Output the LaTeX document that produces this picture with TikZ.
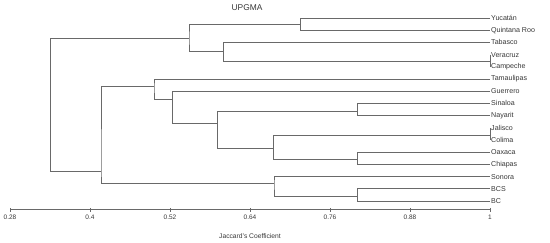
\documentclass[tikz,border=0pt]{standalone}
\usepackage{fontspec}
\setmainfont{Liberation Sans}
\definecolor{ln}{RGB}{105,105,105}
\definecolor{tx}{RGB}{55,55,55}
\begin{document}
\begin{tikzpicture}[x=1pt,y=-1pt,
  lab/.style={anchor=west,inner xsep=1pt,inner ysep=0pt,font=\fontsize{7.1}{8}\selectfont,text=tx},
  br/.style={draw=ln,line width=0.8pt},
  tk/.style={font=\fontsize{6.5}{7}\selectfont,text=tx,inner sep=0pt}]
\useasboundingbox (0,0) rectangle (550,242);
% leaves
\foreach \n/\t [count=\i from 0] in {yuc/Yucatán,qr/Quintana Roo,tab/Tabasco,ver/Veracruz,cam/Campeche,tam/Tamaulipas,gue/Guerrero,sin/Sinaloa,nay/Nayarit,jal/Jalisco,col/Colima,oax/Oaxaca,chi/Chiapas,son/Sonora,bcs/BCS,bc/BC}
  \node[lab] (\n) at (490,{18+12.2*\i}) {\t};
% internal nodes
\coordinate (A) at (300.7,24.5);
\coordinate (B) at (490,61);
\coordinate (C) at (223.5,51);
\coordinate (D) at (189,38.3);
\coordinate (E) at (357.7,111);
\coordinate (F) at (490,135);
\coordinate (G) at (357.7,159.5);
\coordinate (H) at (273.5,148);
\coordinate (I) at (217.3,123.3);
\coordinate (J) at (172.3,99.3);
\coordinate (K) at (154,86.7);
\coordinate (M) at (357.7,196.5);
\coordinate (L) at (274,183.3);
\coordinate (N) at (101,171);
\coordinate (R) at (50.7,105);
% branches
\draw[br] (yuc.west) -| (A) |- (qr.west);
\draw[br] (ver.west) -- (cam.west);
\draw[br] (tab.west) -| (C) |- (B);
\draw[br] (A) -| (D) |- (C);
\draw[br] (sin.west) -| (E) |- (nay.west);
\draw[br] (jal.west) -- (col.west);
\draw[br] (oax.west) -| (G) |- (chi.west);
\draw[br] (F) -| (H) |- (G);
\draw[br] (E) -| (I) |- (H);
\draw[br] (gue.west) -| (J) |- (I);
\draw[br] (tam.west) -| (K) |- (J);
\draw[br] (bcs.west) -| (M) |- (bc.west);
\draw[br] (son.west) -| (L) |- (M);
\draw[br] (K) -| (N) |- (L);
\draw[br] (D) -| (R) |- (N);
% axis
\coordinate (ax0) at (10,209);
\coordinate (ax1) at (490,209);
\draw[br] (ax0) -- (ax1);
\foreach \v/\x [count=\k] in {0.28/10,0.4/90,0.52/170,0.64/250,0.76/330,0.88/410,1/490}{
  \draw[br] (\x,208) -- (\x,211.5);
  \node[tk] (t\k) at (\x,217) {\v};
}
\node[font=\fontsize{8.4}{9}\selectfont,text=tx,inner sep=0pt] (title) at (247,8) {UPGMA};
\node[font=\fontsize{6.7}{7}\selectfont,text=tx,inner sep=0pt] (xlab) at (250,236) {Jaccard's Coefficient};
\end{tikzpicture}
\end{document}
